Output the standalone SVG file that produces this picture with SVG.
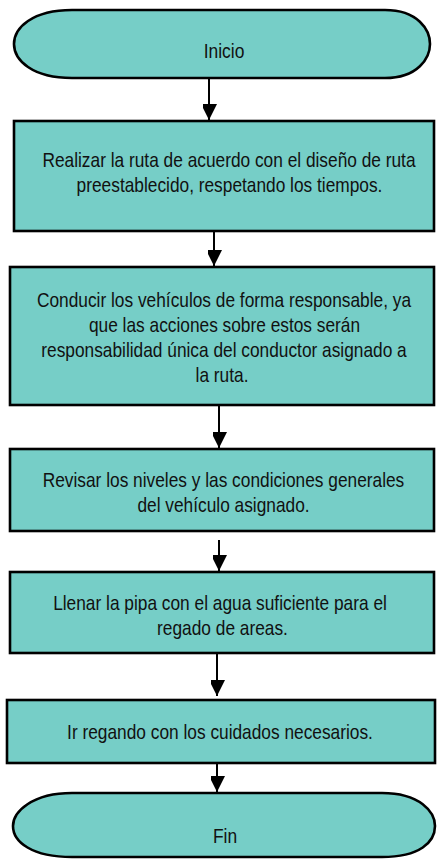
<svg xmlns="http://www.w3.org/2000/svg" width="438" height="859" viewBox="0 0 438 859">
<style>
  .shape { fill: #76cec7; stroke: #000; stroke-width: 2.6; }
  .lbl { font-family: "Liberation Sans", Arial, sans-serif; font-size: 21px; fill: #111; text-anchor: middle; }
  .conn { stroke: #000; stroke-width: 2; fill: none; }
</style>
<defs>
  <marker id="ah" markerUnits="userSpaceOnUse" markerWidth="18" markerHeight="14" refX="16" refY="8" orient="auto">
    <path d="M0,0 L16,8 L0,16 Z" fill="#000"/>
  </marker>
</defs>
<rect width="438" height="859" fill="#fff"/>
<g id="connectors">
  <line class="conn" x1="209" y1="78" x2="209" y2="120" marker-end="url(#ah)"/>
  <line class="conn" x1="214" y1="231" x2="214" y2="266" marker-end="url(#ah)"/>
  <line class="conn" x1="219" y1="405" x2="219" y2="448" marker-end="url(#ah)"/>
  <line class="conn" x1="219" y1="540" x2="219" y2="571" marker-end="url(#ah)"/>
  <line class="conn" x1="217" y1="653" x2="217" y2="696" marker-end="url(#ah)"/>
  <line class="conn" x1="217" y1="761" x2="217" y2="792" marker-end="url(#ah)"/>
</g>
<g id="inicio">
  <path class="shape" d="M72 10 H385 C418 10 430 30 430 44 C430 58 418 78 385 78 H72 C32 78 14 60 14 44 C14 28 32 10 72 10 Z"/>
  <text class="lbl" transform="translate(224 58) scale(0.83 1)">Inicio</text>
</g>
<g id="paso1">
  <rect class="shape" x="14" y="121" width="420" height="110"/>
  <text class="lbl" transform="translate(229 167) scale(0.824 1)">Realizar la ruta de acuerdo con el diseño de ruta</text>
  <text class="lbl" transform="translate(229.5 192) scale(0.824 1)">preestablecido, respetando los tiempos.</text>
</g>
<g id="paso2">
  <rect class="shape" x="10" y="267" width="424" height="138"/>
  <text class="lbl" transform="translate(224 307) scale(0.824 1)">Conducir los vehículos de forma responsable, ya</text>
  <text class="lbl" transform="translate(224.5 332) scale(0.824 1)">que las acciones sobre estos serán</text>
  <text class="lbl" transform="translate(224 357) scale(0.824 1)">responsabilidad única del conductor asignado a</text>
  <text class="lbl" transform="translate(222 382) scale(0.824 1)">la ruta.</text>
</g>
<g id="paso3">
  <rect class="shape" x="10" y="449" width="424" height="82"/>
  <text class="lbl" transform="translate(223.5 487) scale(0.824 1)">Revisar los niveles y las condiciones generales</text>
  <text class="lbl" transform="translate(223.5 512) scale(0.824 1)">del vehículo asignado.</text>
</g>
<g id="paso4">
  <rect class="shape" x="10" y="572" width="424" height="81"/>
  <text class="lbl" transform="translate(220 610) scale(0.824 1)">Llenar la pipa con el agua suficiente para el</text>
  <text class="lbl" transform="translate(222.5 635) scale(0.824 1)">regado de areas.</text>
</g>
<g id="paso5">
  <rect class="shape" x="7" y="700" width="428" height="63"/>
  <text class="lbl" transform="translate(220 739) scale(0.824 1)">Ir regando con los cuidados necesarios.</text>
</g>
<g id="fin">
  <path class="shape" d="M72 793 H382 C420 793 435 812 435 826 C435 842 420 857 382 857 H72 C32 857 13 842 13 826 C13 812 32 793 72 793 Z"/>
  <text class="lbl" transform="translate(225 843) scale(0.83 1)">Fin</text>
</g>
</svg>
